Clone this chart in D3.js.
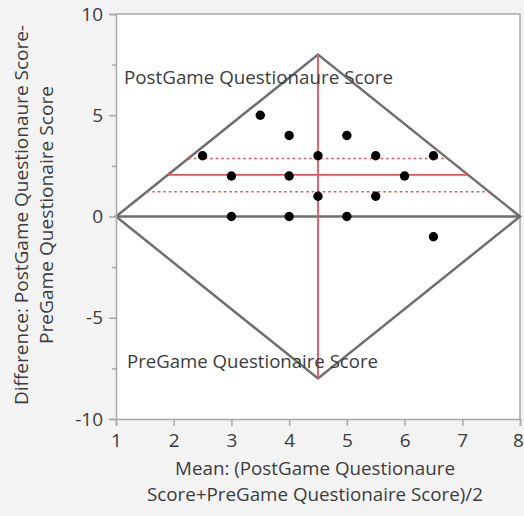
<!DOCTYPE html>
<html><head><meta charset="utf-8">
<script src="https://cdn.jsdelivr.net/npm/d3@7"></script>
<style>
html,body{margin:0;padding:0;background:#f3f3f3;}
svg{display:block;font-family:"Open Sans",sans-serif;}
</style></head>
<body>
<svg id="c" width="524" height="516"></svg>
<script>
// Data
const meanVals = [2.5, 3, 3, 3.5, 4, 4, 4, 4.5, 4.5, 5, 5, 5.5, 5.5, 6, 6.5, 6.5];
const diffVals = [3, 2, 0, 5, 4, 2, 0, 3, 1, 4, 0, 3, 1, 2, 3, -1];
const diamondX = [1, 4.5, 8, 4.5];
const diamondY = [0, 8, 0, -8];
const meanDiff = 2.06;
const ciUpper = 2.86;
const ciLower = 1.22;
const meanOfMeans = 4.5;
const xTicks = [1, 2, 3, 4, 5, 6, 7, 8];
const yTicks = [-10, -5, 0, 5, 10];
const yMinorTicks = [-7.5, -2.5, 2.5, 7.5];
const upperLabel = "PostGame Questionaure Score";
const lowerLabel = "PreGame Questionaire Score";
const xTitle = ["Mean: (PostGame Questionaure", "Score+PreGame Questionaire Score)/2"];
const yTitle = ["Difference: PostGame Questionaure Score-", "PreGame Questionaire Score"];

const svg = d3.select("#c");
const L = 116, R = 520, T = 14, B = 419;
const x = d3.scaleLinear().domain([1, 8]).range([L, R]);
const y = d3.scaleLinear().domain([-10, 10]).range([B, T]);
const red = "#e5505f", gray = "#6e6e6e", axisGray = "#a8a8a8", txt = "#3c3c3c";

// plot background
svg.append("rect").attr("x", L).attr("y", T).attr("width", R - L).attr("height", B - T).attr("fill", "#fff");
// frame top and right
svg.append("path").attr("d", `M${L},${T}H${R}V${B}`).attr("fill", "none").attr("stroke", axisGray).attr("stroke-width", 1.5);

// diamond and zero line
const dpts = diamondX.map((d, i) => [x(d), y(diamondY[i])]);
svg.append("path").attr("d", d3.line()(dpts) + "Z").attr("fill", "none").attr("stroke", gray).attr("stroke-width", 2.5).attr("stroke-linejoin", "miter");
svg.append("line").attr("x1", x(1)).attr("x2", x(8)).attr("y1", y(0)).attr("y2", y(0)).attr("stroke", gray).attr("stroke-width", 2.5);

function halfWidthAt(v) {
  return (diamondX[2] - diamondX[0]) / 2 * (1 - Math.abs(v) / diamondY[1]);
}
function hline(v, dash) {
  const hw = halfWidthAt(v), c = diamondX[1];
  svg.append("line").attr("x1", x(c - hw)).attr("x2", x(c + hw)).attr("y1", y(v)).attr("y2", y(v))
    .attr("stroke", red).attr("stroke-width", dash ? 1.5 : 1.8).attr("stroke-dasharray", dash ? "2.5,3" : null);
}
hline(meanDiff, false);
hline(ciUpper, true);
hline(ciLower, true);
svg.append("line").attr("x1", x(meanOfMeans)).attr("x2", x(meanOfMeans)).attr("y1", y(diamondY[1])).attr("y2", y(diamondY[3]))
  .attr("stroke", red).attr("stroke-width", 1.8);

// points
svg.append("g").selectAll("circle").data(meanVals).join("circle")
  .attr("cx", d => x(d)).attr("cy", (d, i) => y(diffVals[i])).attr("r", 4.7).attr("fill", "#000");

// labels in plot
svg.append("text").attr("x", 124).attr("y", 84).attr("font-size", 17.5).attr("fill", txt)
  .attr("textLength", 269).attr("lengthAdjust", "spacingAndGlyphs").text(upperLabel);
svg.append("text").attr("x", 127).attr("y", 368).attr("font-size", 17.5).attr("fill", txt)
  .attr("textLength", 251).attr("lengthAdjust", "spacingAndGlyphs").text(lowerLabel);

// axes
const fmt = d => String(d);
const xAxis = svg.append("g").attr("transform", `translate(0,${B})`)
  .call(d3.axisBottom(x).tickValues(xTicks).tickFormat(fmt).tickSize(7).tickPadding(8));
const yAxis = svg.append("g").attr("transform", `translate(${L},0)`)
  .call(d3.axisLeft(y).tickValues(yTicks).tickFormat(fmt).tickSize(7).tickPadding(6));
svg.append("g").attr("transform", `translate(${L},0)`)
  .call(d3.axisLeft(y).tickValues(yMinorTicks).tickFormat("").tickSize(4))
  .call(g => g.select(".domain").remove())
  .selectAll("line").attr("stroke", axisGray).attr("stroke-width", 1.5);
[xAxis, yAxis].forEach(g => {
  g.select(".domain").attr("stroke", axisGray).attr("stroke-width", 1.5);
  g.selectAll(".tick line").attr("stroke", axisGray).attr("stroke-width", 1.5);
  g.selectAll("text").attr("font-size", 19).attr("fill", txt).attr("font-family", "Open Sans, sans-serif");
});
// keep the last x label inside the window
xAxis.selectAll(".tick").filter(d => d === xTicks[xTicks.length - 1]).select("text").attr("dx", -2);

// titles
const xLens = [280, 336];
xTitle.forEach((t, i) => {
  svg.append("text").attr("x", 315).attr("y", 475 + i * 26).attr("text-anchor", "middle")
    .attr("font-size", 17.5).attr("fill", txt)
    .attr("textLength", xLens[i]).attr("lengthAdjust", "spacingAndGlyphs").text(t);
});
const yLens = [380, 258];
yTitle.forEach((t, i) => {
  svg.append("text").attr("transform", `translate(${28 + i * 25},${215}) rotate(-90)`).attr("text-anchor", "middle")
    .attr("font-size", 17.5).attr("fill", txt)
    .attr("textLength", yLens[i]).attr("lengthAdjust", "spacingAndGlyphs").text(t);
});
</script>
</body></html>
